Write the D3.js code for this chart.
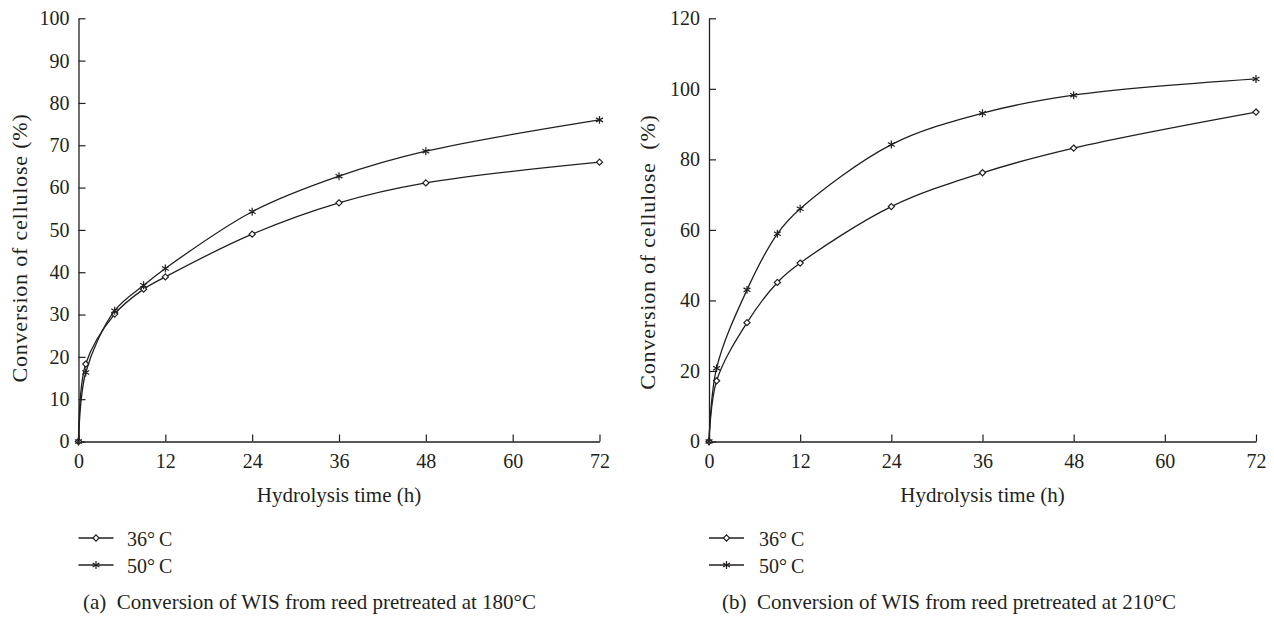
<!DOCTYPE html>
<html>
<head>
<meta charset="utf-8">
<script src="https://cdn.jsdelivr.net/npm/d3@7"></script>
<style>
  body { margin: 0; background: #fff; }
  svg text { font-family: "Liberation Serif", "DejaVu Serif", serif; fill: #231f20; }
</style>
</head>
<body>
<div id="chart"></div>
<script>
// Data
const hours = [0, 1, 5, 9, 12, 24, 36, 48, 72];
const xTicks = [0, 12, 24, 36, 48, 60, 72];
const seriesNames = ["36\u00b0\u2009C", "50\u00b0\u2009C"];

// (a) pretreated at 180°C
const convA36 = [0, 18.3, 30.1, 36.0, 38.9, 49.0, 56.4, 61.1, 66.0];
const convA50 = [0, 16.3, 30.9, 36.9, 40.9, 54.3, 62.7, 68.6, 76.0];
const yTicksA = [0, 10, 20, 30, 40, 50, 60, 70, 80, 90, 100];

// (b) pretreated at 210°C
const convB36 = [0, 17.2, 33.7, 45.1, 50.6, 66.6, 76.2, 83.2, 93.4];
const convB50 = [0, 20.8, 43.0, 58.9, 66.0, 84.2, 93.1, 98.2, 102.8];
const yTicksB = [0, 20, 40, 60, 80, 100, 120];

const ink = "#231f20";

const svg = d3.select("#chart").append("svg")
  .attr("width", 1274)
  .attr("height", 617);

function drawPanel(opts) {
  const x = d3.scaleLinear().domain([0, 72]).range([opts.left, opts.right]);
  const y = d3.scaleLinear().domain([0, opts.yMax]).range([441.5, 18.3]);

  const g = svg.append("g");

  // axes, ticks pointing inward
  const xAxis = g.append("g")
    .attr("transform", "translate(0,441.5)")
    .call(d3.axisBottom(x).tickValues(xTicks).tickSizeInner(-7).tickSizeOuter(0).tickPadding(12));
  const yAxis = g.append("g")
    .attr("transform", "translate(" + opts.left + ",0)")
    .call(d3.axisLeft(y).tickValues(opts.yTicks).tickSizeInner(-7).tickSizeOuter(0).tickPadding(9));

  [xAxis, yAxis].forEach(a => {
    a.select(".domain").attr("stroke", ink).attr("stroke-width", 1.3);
    a.selectAll(".tick line").attr("stroke", ink).attr("stroke-width", 1.2);
    a.selectAll("text").style("font-size", "20px").attr("fill", ink)
      .style("font-family", "'Liberation Serif', serif");
  });
  xAxis.selectAll("text").attr("dy", "0.71em");

  // axis titles
  g.append("text")
    .attr("x", (opts.left + opts.right) / 2)
    .attr("y", 502)
    .attr("text-anchor", "middle")
    .style("font-size", "21px")
    .text("Hydrolysis time (h)");

  g.append("text")
    .attr("transform", "translate(" + opts.titleX + "," + opts.titleY + ") rotate(-90)")
    .attr("text-anchor", "middle")
    .attr("xml:space", "preserve")
    .style("font-size", "22px")
    .style("letter-spacing", "0.8px")
    .text(opts.yTitle);

  const line = d3.line()
    .x(d => x(d[0]))
    .y(d => y(d[1]))
    .curve(d3.curveCatmullRom.alpha(0.5));

  const diamond = d3.symbol(d3.symbolDiamond2, 24);
  const star = d3.symbol(d3.symbolAsterisk, 44);

  opts.series.forEach((vals, i) => {
    const pts = hours.map((h, k) => [h, vals[k]]);
    g.append("path")
      .datum(pts)
      .attr("fill", "none")
      .attr("stroke", ink)
      .attr("stroke-width", 1.3)
      .attr("d", line);

    g.selectAll(".m" + i)
      .data(pts)
      .enter().append("path")
      .attr("class", "m" + i)
      .attr("transform", d => "translate(" + x(d[0]) + "," + y(d[1]) + ")")
      .attr("d", i === 0 ? diamond : star)
      .attr("fill", i === 0 ? "#fff" : "none")
      .attr("stroke", ink)
      .attr("stroke-width", 1.2);
  });

  // legend
  const leg = g.append("g");
  seriesNames.forEach((name, i) => {
    const ly = 538 + i * 27;
    leg.append("line")
      .attr("x1", opts.left).attr("x2", opts.left + 35)
      .attr("y1", ly).attr("y2", ly)
      .attr("stroke", ink).attr("stroke-width", 1.3);
    leg.append("path")
      .attr("transform", "translate(" + (opts.left + 17.5) + "," + ly + ")")
      .attr("d", i === 0 ? diamond : star)
      .attr("fill", i === 0 ? "#fff" : "none")
      .attr("stroke", ink)
      .attr("stroke-width", 1.2);
    leg.append("text")
      .attr("x", opts.left + opts.legendGap)
      .attr("y", ly + 7.5)
      .style("font-size", "20px")
      .text(name);
  });

  // caption
  g.append("text")
    .attr("x", opts.captionX)
    .attr("y", 609)
    .attr("xml:space", "preserve")
    .style("font-size", "21px")
    .text(opts.caption);
}

drawPanel({
  left: 78.5, right: 599.5, yMax: 100, yTicks: yTicksA,
  series: [convA36, convA50],
  titleX: 27, titleY: 248,
  yTitle: "Conversion of cellulose (%)",
  legendGap: 48.5,
  captionX: 83,
  caption: "(a)  Conversion of WIS from reed pretreated at 180\u00b0C"
});

drawPanel({
  left: 709, right: 1256, yMax: 120, yTicks: yTicksB,
  series: [convB36, convB50],
  titleX: 655, titleY: 252,
  yTitle: "Conversion of cellulose  (%)",
  legendGap: 50,
  captionX: 722,
  caption: "(b)  Conversion of WIS from reed pretreated at 210\u00b0C"
});
</script>
</body>
</html>
